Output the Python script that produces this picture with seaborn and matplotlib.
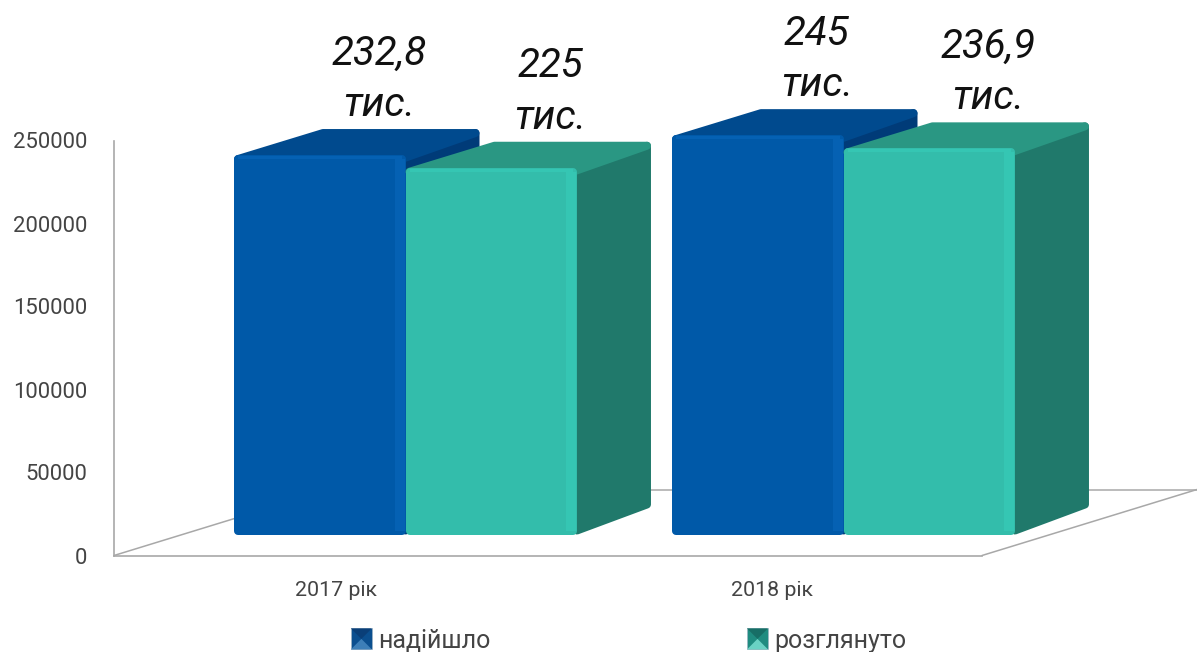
import matplotlib
matplotlib.use("Agg")
import matplotlib.pyplot as plt
from matplotlib.legend_handler import HandlerPatch
from matplotlib.patches import Patch, Polygon, Rectangle
import pandas as pd
import seaborn as sns

# Data
YEARS = ["2017 рік", "2018 рік"]
RECEIVED = [232800, 245000]
REVIEWED = [225000, 236900]
VALUE_LABELS = [["232,8\nтис.", "245\nтис."], ["225\nтис.", "236,9\nтис."]]
STATUSES = ["надійшло", "розглянуто"]
Y_TICKS = [0, 50000, 100000, 150000, 200000, 250000]

# Colours: front, top, side, bevel
BLUES = ("#0059a8", "#004a8e", "#003b78", "#0561b3")
TEALS = ("#33bdab", "#2a9783", "#20796b", "#35c6b3")
GREY = "#a8a8a8"
TEXT = "#444444"

W, H = 1197, 652
DEPTH_LEFT, DEPTH_RIGHT, DEPTH_UP = 85, 74, 26  # px
CORNER = 4  # px, half of the rounded outline


def px_rect(left, right, bottom, top):
    return [left / W, 1 - bottom / H, (right - left) / W, (bottom - top) / H]


class PyramidHandler(HandlerPatch):
    # small bevelled square used in the legend
    def create_artists(self, legend, orig, x0, y0, width, height, fontsize, trans):
        c = orig.get_facecolor()
        dark, light = orig.pale
        s = height * 1.2
        x = x0 + (width - s) / 2
        y = y0 - 1
        mid = (x + s / 2, y + s / 2)
        box = [(x, y), (x + s, y), (x + s, y + s), (x, y + s)]
        arts = [Polygon(box, facecolor=c, edgecolor="#9fb4c4", lw=0.5, transform=trans)]
        arts.append(Polygon([box[0], box[1], mid], facecolor=light, lw=0, transform=trans))
        arts.append(Polygon([box[3], box[2], mid], facecolor=dark, lw=0, transform=trans))
        return arts


sns.set_theme(style="white")
plt.rcParams["font.family"] = ["Roboto", "DejaVu Sans"]

df = pd.DataFrame({
    "year": YEARS * 2,
    "value": RECEIVED + REVIEWED,
    "status": [STATUSES[0]] * 2 + [STATUSES[1]] * 2,
})

fig = plt.figure(figsize=(W / 100, H / 100), dpi=100)

# Wall and floor
ax = fig.add_axes(px_rect(114, 982, 555.5, 140.5))
ax.set_xlim((114 - 336) / 436, (982 - 336) / 436)
ax.set_ylim(0, 250000)
ax.set_xticks(range(len(YEARS)), YEARS, fontsize=15.4, color=TEXT)
ax.set_yticks(Y_TICKS, [str(t) for t in Y_TICKS], fontsize=15.9, color=TEXT)
ax.tick_params(axis="x", length=0, pad=18)
ax.tick_params(axis="y", length=0, pad=19.5)
for side in ["top", "right"]:
    ax.spines[side].set_visible(False)
for side in ["left", "bottom"]:
    ax.spines[side].set_color(GREY)
    ax.spines[side].set_linewidth(1.2)

floor_dx = 215 / 868
floor_dy = 66 / 415
for xs, ys in [([0, floor_dx], [0, floor_dy]),
               ([1, 1 + floor_dx], [0, floor_dy]),
               ([floor_dx, 1 + floor_dx], [floor_dy, floor_dy])]:
    ax.plot(xs, ys, color=GREY, lw=1.1, transform=ax.transAxes, clip_on=False)

# Bars
ax_bars = fig.add_axes(px_rect(114, 982, 534.5, 127))
ax_bars.patch.set_alpha(0)
sns.barplot(data=df, x="year", y="value", hue="status", order=YEARS, hue_order=STATUSES,
            palette=[BLUES[0], TEALS[0]], saturation=1, width=0.783, gap=0,
            legend=False, ax=ax_bars)
ax_bars.set_xlim((114 - 405.5) / 438, (982 - 405.5) / 438)
ax_bars.set_ylim(0, 250000)
ax_bars.axis("off")

x_per_px = 1 / 438
y_per_px = 250000 / 407.5
round_lw = 2 * CORNER * 0.72

z = 2
for cont, colors, labels in zip(ax_bars.containers, [BLUES, TEALS], VALUE_LABELS):
    front, top_c, side_c, bevel = colors
    for bar, lab in zip(cont, labels):
        x0, x1 = bar.get_x(), bar.get_x() + bar.get_width()
        v = bar.get_height()
        rx, ry = CORNER * x_per_px, CORNER * y_per_px
        dl = DEPTH_LEFT * x_per_px
        dr = DEPTH_RIGHT * x_per_px
        du = DEPTH_UP * y_per_px
        side = Polygon([(x1, ry), (x1 + dr - rx, du + ry), (x1 + dr - rx, v + du - ry), (x1, v - ry)],
                       closed=True, facecolor=side_c, edgecolor=side_c, lw=round_lw,
                       joinstyle="round", clip_on=False, zorder=z)
        top = Polygon([(x0 + rx, v - ry), (x0 + dl + rx, v + du - ry),
                       (x1 + dr - rx, v + du - ry), (x1 - rx, v - ry)],
                      closed=True, facecolor=top_c, edgecolor=top_c, lw=round_lw,
                      joinstyle="round", clip_on=False, zorder=z)
        ax_bars.add_patch(side)
        ax_bars.add_patch(top)

        # seaborn's bar, pulled in so the thick round outline keeps the same size
        bar.set_x(x0 + rx)
        bar.set_width(x1 - x0 - 2 * rx)
        bar.set_y(ry)
        bar.set_height(v - 2 * ry)
        bar.set_edgecolor(front)
        bar.set_linewidth(round_lw)
        bar.set_joinstyle("round")
        bar.set_clip_on(False)
        bar.set_zorder(z + 1)

        # lighter bevel along the right edge and the top of the front face
        ax_bars.add_patch(Rectangle((x1 - 11 * x_per_px, ry), 10 * x_per_px, v - 2 * ry,
                                    facecolor=bevel, lw=0, clip_on=False, zorder=z + 1.5))
        ax_bars.add_patch(Rectangle((x0 + rx, v - 4 * y_per_px), x1 - x0 - 2 * rx, 3 * y_per_px,
                                    facecolor=bevel, lw=0, clip_on=False, zorder=z + 1.5))

        ax_bars.annotate(lab, xy=((x0 + x1) / 2, v), xytext=(59, 76),
                         textcoords="offset pixels", ha="center", va="center",
                         multialignment="center", fontsize=29, style="italic",
                         family="Roboto", color="#111111", linespacing=1.42,
                         annotation_clip=False, zorder=20)
        z += 2

# Legend
h_blue = Patch(facecolor="#0b4f8f", label=STATUSES[0])
h_blue.pale = ("#0a3f78", "#3d7fb8")
h_teal = Patch(facecolor="#1f8c80", label=STATUSES[1])
h_teal.pale = ("#176e66", "#6ad2c4")
fig.legend(handles=[h_blue, h_teal], loc="lower left", bbox_to_anchor=(347 / W, -1 / H),
           ncol=2, frameon=False, prop={"family": "Roboto", "size": 18}, labelcolor=TEXT,
           handler_map={Patch: PyramidHandler()}, handlelength=1.15, handletextpad=0.1,
           columnspacing=10.1, borderpad=0, borderaxespad=0)

fig.savefig("out.png", dpi=100)
